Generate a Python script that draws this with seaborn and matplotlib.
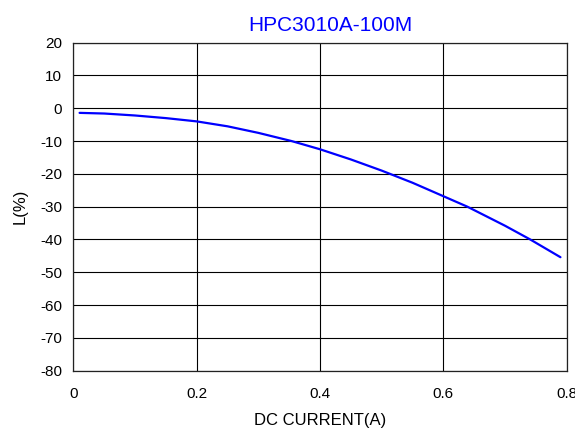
import pandas as pd
import matplotlib
matplotlib.use("Agg")
import matplotlib.pyplot as plt
import seaborn as sns

# values
current = [0.01, 0.05, 0.10, 0.15, 0.20, 0.25, 0.30, 0.354, 0.40, 0.45, 0.50, 0.55, 0.60, 0.639, 0.70, 0.741, 0.79]
inductance_change = [-1.4, -1.6, -2.2, -3.0, -4.0, -5.5, -7.5, -10.0, -12.5, -15.6, -19.0, -22.7, -26.8, -30.0, -35.8, -40.0, -45.4]
x_ticks = [0, 0.2, 0.4, 0.6, 0.8]
x_ticklabels = ["0", "0.2", "0.4", "0.6", "0.8"]
y_ticks = [20, 10, 0, -10, -20, -30, -40, -50, -60, -70, -80]

df = pd.DataFrame({"I": current, "L": inductance_change})

sns.set_style("white")
plt.rcParams["font.family"] = ["Liberation Sans", "DejaVu Sans"]
plt.rcParams["axes.unicode_minus"] = False
plt.rcParams["lines.solid_joinstyle"] = "round"

fig = plt.figure(figsize=(5.75, 4.28), dpi=100)
ax = fig.add_axes([0.1277, 0.1339, 0.8577, 0.7664])

sns.lineplot(data=df, x="I", y="L", color="#0000ff", linewidth=1.6, ax=ax)

ax.set_xlim(0, 0.8)
ax.set_ylim(-80, 20)
ax.set_xticks(x_ticks)
ax.set_xticklabels(x_ticklabels)
ax.set_yticks(y_ticks)
ax.grid(True, color="black", linewidth=0.8)
for s in ax.spines.values():
    s.set_color("#222222")
    s.set_linewidth(0.9)
ax.tick_params(axis="both", length=0, labelsize=11, colors="black")
ax.tick_params(axis="x", pad=12)
ax.tick_params(axis="y", pad=8)

ax.set_xlabel("DC CURRENT(A)", fontsize=12, color="black")
ax.set_ylabel("L(%)", fontsize=12, color="black")
ax.xaxis.set_label_coords(0.5, -0.128)
ax.yaxis.set_label_coords(-0.092, 0.5)

ax.text(0.522, 1.035, "HPC3010A-100M", transform=ax.transAxes, color="#0000ff",
        fontsize=15, ha="center", va="baseline")

fig.savefig("out.png", dpi=100)
